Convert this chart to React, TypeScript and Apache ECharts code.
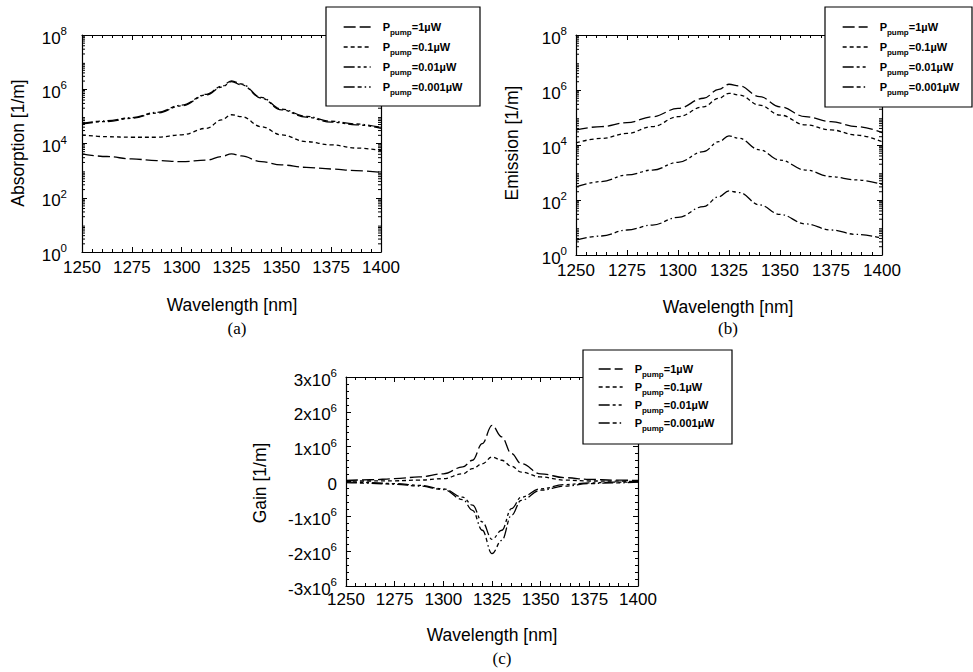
import React, { useEffect, useRef } from "react";
import * as echarts from "echarts";

// ---------- data ----------
const wavelength = [1250, 1262.5, 1275, 1287.5, 1300, 1312.5, 1320, 1325, 1330, 1340, 1350, 1362.5, 1375, 1387.5, 1400];

const absorption1 = [4170, 3310, 2690, 2340, 2140, 2450, 3310, 4170, 3470, 2140, 1620, 1320, 1150, 1000, 870];
const absorption01 = [20900, 17800, 17000, 17000, 20900, 36300, 74100, 115000, 97700, 41700, 20900, 11700, 8900, 6800, 5500];
const absorption001 = [52500, 64600, 85100, 132000, 245000, 617000, 1200000, 1900000, 1450000, 468000, 174000, 93300, 61700, 49000, 36300];
const absorption0001 = [55000, 69000, 90000, 140000, 262000, 650000, 1280000, 2050000, 1560000, 500000, 186000, 100000, 66000, 52500, 39000];

const emission1 = [35500, 46800, 64600, 107000, 214000, 501000, 1050000, 1620000, 1410000, 575000, 245000, 107000, 70800, 46800, 28200];
const emission01 = [12000, 17400, 26300, 46800, 107000, 245000, 501000, 759000, 661000, 282000, 123000, 53700, 35500, 22900, 13200];
const emission001 = [302, 468, 813, 1230, 2340, 5750, 13200, 21400, 17400, 6610, 2820, 1230, 708, 537, 372];
const emission0001 = [3.5, 4.9, 8.1, 12.3, 23.4, 57.5, 132, 214, 186, 66, 30, 13.5, 8.1, 5.6, 4.1];

const wavelengthGain = [1250, 1262.5, 1275, 1287.5, 1300, 1310, 1315, 1320, 1325, 1330, 1335, 1340, 1350, 1362.5, 1375, 1387.5, 1400];
const gain1 = [0.03e6, 0.05e6, 0.08e6, 0.13e6, 0.22e6, 0.42e6, 0.61e6, 1.09e6, 1.61e6, 1.28e6, 0.8e6, 0.51e6, 0.22e6, 0.11e6, 0.06e6, 0.04e6, 0.03e6];
const gain01 = [0.01e6, 0.015e6, 0.02e6, 0.04e6, 0.08e6, 0.22e6, 0.37e6, 0.51e6, 0.7e6, 0.61e6, 0.44e6, 0.27e6, 0.13e6, 0.04e6, 0.015e6, 0.01e6, 0];
const gain001 = [-0.01e6, -0.03e6, -0.06e6, -0.11e6, -0.21e6, -0.45e6, -0.68e6, -1.16e6, -1.66e6, -1.4e6, -0.78e6, -0.45e6, -0.21e6, -0.09e6, -0.04e6, -0.02e6, -0.01e6];
const gain0001 = [-0.03e6, -0.05e6, -0.08e6, -0.13e6, -0.23e6, -0.52e6, -0.83e6, -1.4e6, -2.07e6, -1.69e6, -0.97e6, -0.54e6, -0.25e6, -0.13e6, -0.06e6, -0.04e6, -0.02e6];

const powerNames = ["1", "0.1", "0.01", "0.001"];
const logExponentTicks = [0, 2, 4, 6, 8];
const logDecades = [0, 1, 2, 3, 4, 5, 6, 7];
const panelLabels = ["(a)", "(b)", "(c)"];
const yTitles = ["Absorption [1/m]", "Emission [1/m]", "Gain [1/m]"];
const xTitle = "Wavelength [nm]";

// ---------- styles ----------
const SANS = "Liberation Sans";
const dashes: number[][] = [
  [12, 4],
  [4, 3],
  [11, 3, 3, 3, 3, 3],
  [11, 3, 4, 3, 1.5, 3],
];

const grids = [
  { left: 82, top: 35, width: 299, height: 217 },
  { left: 576, top: 35, width: 306, height: 220 },
  { left: 346, top: 377, width: 292, height: 209 },
];

const pair = (xs: number[], ys: number[], log: boolean) =>
  xs.map((x, i) => [x, log ? Math.log10(ys[i]) : ys[i]]);

export default function App() {
  const ref = useRef<HTMLDivElement>(null);
  useEffect(() => {
    document.body.style.margin = "0";
    const chart = echarts.init(ref.current!, null, { renderer: "svg" });

    const supRich = {
      b: { fontFamily: SANS, fontSize: 17, color: "#000", padding: [6, 0, 0, 0] },
      e: { fontFamily: SANS, fontSize: 11.5, color: "#000", padding: [0, 0, 8, 0] },
    };

    const xAxes: any[] = [];
    const yAxes: any[] = [];
    grids.forEach((g, i) => {
      const base = {
        type: "value",
        gridIndex: i,
        min: 1250,
        max: 1400,
        interval: 25,
        splitLine: { show: false },
        axisLine: { onZero: false, lineStyle: { color: "#000", width: 1.2 } },
        axisTick: { inside: true, length: 5, lineStyle: { color: "#000" } },
        minorTick: { show: true, splitNumber: 5, length: 3, lineStyle: { color: "#000" } },
      };
      xAxes.push({
        ...base,
        position: "bottom",
        axisLabel: {
          margin: i === 2 ? 5 : 7,
          color: "#000",
          fontFamily: SANS,
          fontSize: 17,
          formatter: (v: number) => String(v),
        },
      });
      xAxes.push({ ...base, position: "top", axisLabel: { show: false } });

      if (i < 2) {
        // log10-scaled value axis (exponent 0..8)
        const yb = {
          type: "value",
          gridIndex: i,
          min: logExponentTicks[0],
          max: logExponentTicks[logExponentTicks.length - 1],
          interval: 2,
          splitLine: { show: false },
          axisLine: { onZero: false, lineStyle: { color: "#000", width: 1.2 } },
          axisTick: { inside: true, length: 5, lineStyle: { color: "#000" } },
        };
        yAxes.push({
          ...yb,
          position: "left",
          axisLabel: {
            margin: i === 0 ? 15 : 9,
            color: "#000",
            formatter: (v: number) => `{b|10}{e|${Math.round(v)}}`,
            rich: supRich,
          },
        });
        yAxes.push({ ...yb, position: "right", axisLabel: { show: false } });
      } else {
        const yb = {
          type: "value",
          gridIndex: i,
          min: -3e6,
          max: 3e6,
          interval: 1e6,
          splitLine: { show: false },
          axisLine: { onZero: false, lineStyle: { color: "#000", width: 1.2 } },
          axisTick: { inside: true, length: 5, lineStyle: { color: "#000" } },
          minorTick: { show: true, splitNumber: 5, length: 3, lineStyle: { color: "#000" } },
        };
        yAxes.push({
          ...yb,
          position: "left",
          axisLabel: {
            margin: 9,
            color: "#000",
            formatter: (v: number) => {
              if (v === 0) return "{b|0}";
              const m = Math.round(v / 1e6);
              return `{b|${m}x10}{e|6}`;
            },
            rich: supRich,
          },
        });
        yAxes.push({ ...yb, position: "right", axisLabel: { show: false } });
      }
    });

    const panelData = [
      { xs: wavelength, ys: [absorption1, absorption01, absorption001, absorption0001], log: true },
      { xs: wavelength, ys: [emission1, emission01, emission001, emission0001], log: true },
      { xs: wavelengthGain, ys: [gain1, gain01, gain001, gain0001], log: false },
    ];

    const series: any[] = [];
    panelData.forEach((p, i) => {
      p.ys.forEach((ys, k) => {
        series.push({
          type: "line",
          name: powerNames[k],
          xAxisIndex: 2 * i,
          yAxisIndex: 2 * i,
          data: pair(p.xs, ys, p.log),
          showSymbol: false,
          symbol: "none",
          smooth: 0.4,
          smoothMonotone: "x",
          lineStyle: { color: "#000", width: 1.3, type: dashes[k] },
          itemStyle: { color: "#000" },
          z: 3,
        });
      });
    });

    // log minor ticks (2..9 x 10^n) on both sides of log panels
    const minorVals: number[][] = [];
    logDecades.forEach((d) => {
      for (let k = 2; k <= 9; k++) minorVals.push([1250, d + Math.log10(k)]);
    });
    [0, 1].forEach((i) => {
      series.push({
        type: "custom",
        xAxisIndex: 2 * i,
        yAxisIndex: 2 * i,
        data: minorVals,
        encode: { x: 0, y: 1 },
        silent: true,
        clip: false,
        z: 4,
        renderItem: (_params: any, api: any) => {
          const v = api.value(1);
          const l = api.coord([1250, v]);
          const r = api.coord([1400, v]);
          return {
            type: "group",
            children: [
              { type: "line", shape: { x1: l[0], y1: l[1], x2: l[0] + 3, y2: l[1] }, style: { stroke: "#000", lineWidth: 1 } },
              { type: "line", shape: { x1: r[0] - 3, y1: r[1], x2: r[0], y2: r[1] }, style: { stroke: "#000", lineWidth: 1 } },
            ],
          };
        },
      });
    });

    const legendRich = {
      p: { fontFamily: SANS, fontSize: 11, fontWeight: "bold", color: "#000", lineHeight: 18, padding: [0, 0, 0, 7] },
      s: { fontFamily: SANS, fontSize: 8, fontWeight: "bold", color: "#000", lineHeight: 8, padding: [10, 0, 0, 0] },
      v: { fontFamily: SANS, fontSize: 11, fontWeight: "bold", color: "#000", lineHeight: 18 },
    };
    const legendPos = [
      { left: 343, top: 18, itemWidth: 27, itemGap: 2 },
      { left: 842, top: 18, itemWidth: 25, itemGap: 2 },
      { left: 598, top: 360, itemWidth: 24, itemGap: 0 },
    ];
    const legends = legendPos.map((lp) => ({
      show: true,
      orient: "vertical",
      left: lp.left,
      top: lp.top,
      padding: 0,
      itemWidth: lp.itemWidth,
      itemHeight: 10,
      itemGap: lp.itemGap,
      data: powerNames,
      selectedMode: false,
      z: 20,
      itemStyle: { opacity: 0, color: "transparent", borderWidth: 0 },
      lineStyle: { width: 1.3 },
      formatter: (name: string) => `{p|P}{s|pump}{v|=${name}\u00b5W}`,
      textStyle: { rich: legendRich },
    }));

    const boxes = [
      { x: 326, y: 7, w: 154, h: 99 },
      { x: 825, y: 7, w: 147, h: 100 },
      { x: 583, y: 350, w: 149, h: 94 },
    ];

    const centers = [
      { xt: [232, 305], lab: [237, 328], yt: [18, 143] },
      { xt: [728, 307], lab: [728, 328], yt: [512, 143] },
      { xt: [492, 635], lab: [502, 658], yt: [260, 483] },
    ];

    const graphic: any[] = [];
    boxes.forEach((b) => {
      graphic.push({
        type: "rect",
        shape: { x: b.x, y: b.y, width: b.w, height: b.h },
        style: { fill: "#fff", stroke: "#000", lineWidth: 1.2 },
        z: 10,
      });
    });
    centers.forEach((c, i) => {
      graphic.push({
        type: "text",
        x: c.xt[0],
        y: c.xt[1],
        style: { text: xTitle, fontFamily: SANS, fontSize: 17.5, fill: "#000", align: "center", verticalAlign: "middle" },
      });
      graphic.push({
        type: "text",
        x: c.lab[0],
        y: c.lab[1],
        style: { text: panelLabels[i], fontFamily: "Liberation Serif", fontSize: 17, fill: "#000", align: "center", verticalAlign: "middle" },
      });
      graphic.push({
        type: "text",
        x: c.yt[0],
        y: c.yt[1],
        rotation: Math.PI / 2,
        style: { text: yTitles[i], fontFamily: SANS, fontSize: 17.5, fill: "#000", align: "center", verticalAlign: "middle" },
      });
    });

    chart.setOption({
      animation: false,
      backgroundColor: "#fff",
      grid: grids.map((g) => ({ ...g, containLabel: false, outerBoundsMode: "none" })),
      xAxis: xAxes,
      yAxis: yAxes,
      legend: legends,
      series,
      graphic,
    });
    return () => chart.dispose();
  }, []);
  return <div ref={ref} style={{ width: 973, height: 672 }} />;
}
